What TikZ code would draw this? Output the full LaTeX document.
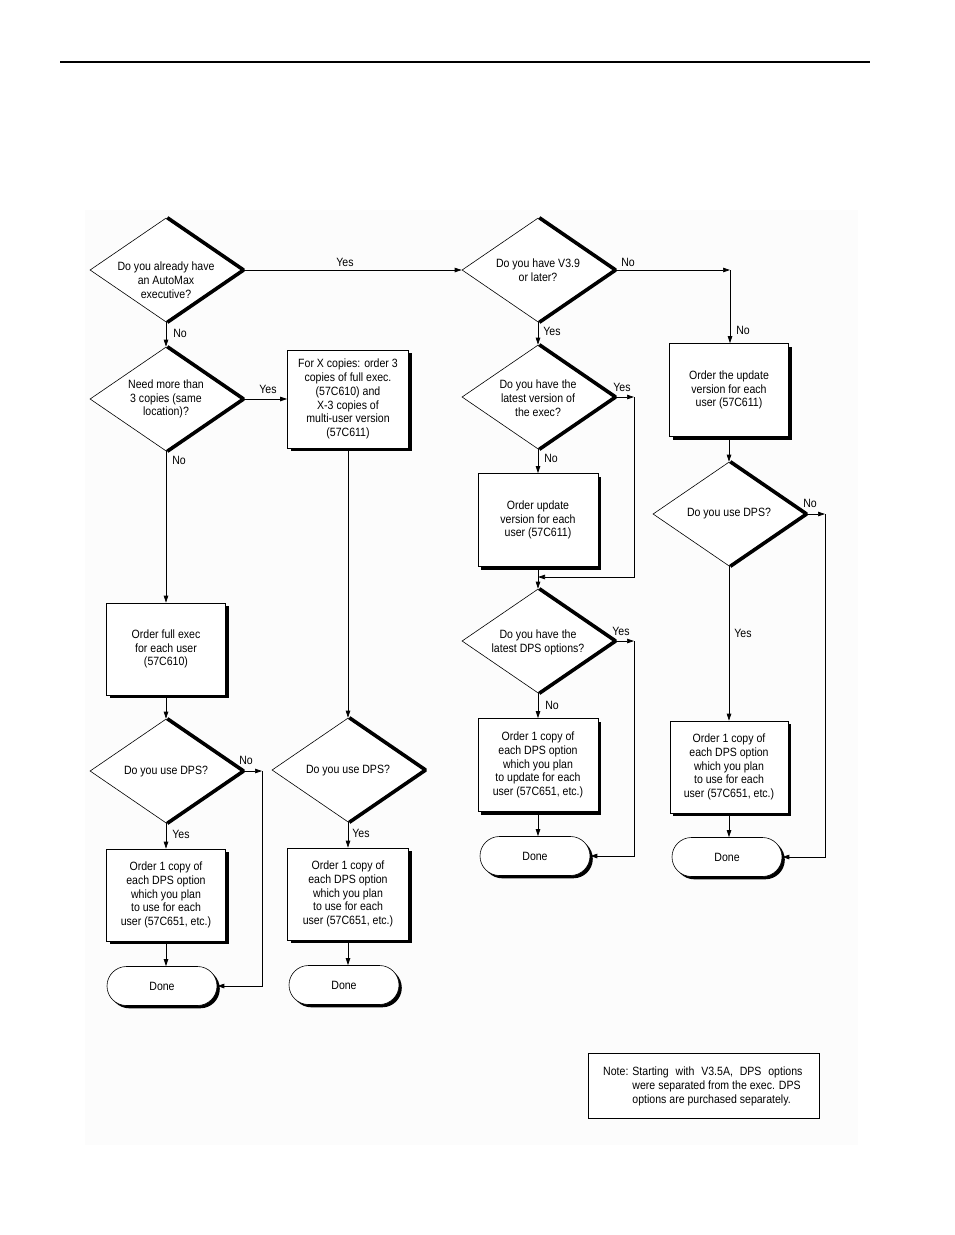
\documentclass[tikz,border=0pt]{standalone}
\usepackage{fontspec}
\setmainfont{Liberation Sans}[FakeStretch=0.88]
\usetikzlibrary{shapes.geometric,shapes.misc,arrows.meta,shadows}
\begin{document}
\begin{tikzpicture}[x=1pt,y=-1pt,
  every node/.style={font=\fontsize{12}{13.8}\selectfont},
  dia/.style={diamond, draw, fill=white, minimum width=152pt, minimum height=104pt, inner sep=0pt, line width=0.6pt},
  dsh/.style={line width=3.6pt, line join=bevel},
  txt/.style={align=center, inner sep=0pt},
  box/.style={draw, fill=white, line width=0.6pt, align=center, inner sep=0pt,
    general shadow={fill=black, shadow xshift=3pt, shadow yshift=-3pt}},
  done/.style={rounded rectangle, draw, fill=white, line width=0.6pt, minimum width=110pt, minimum height=39pt, inner sep=0pt,
    general shadow={fill=black, shadow xshift=2.8pt, shadow yshift=-2.8pt}},
  arr/.style={draw, line width=0.7pt, -{Triangle[length=7pt,width=4.5pt]}},
  lab/.style={inner sep=0pt}]
\useasboundingbox (0,0) rectangle (954,1235);
\fill[black!1.2] (85,210) rectangle (858,1145);
\draw[line width=1.5pt] (60,62) -- (870,62);

% diamonds
\node[dia] (d1) at (166,270) {};
\node[dia] (d2) at (166,399) {};
\node[dia] (d3) at (538,270) {};
\node[dia] (d4) at (538,397) {};
\node[dia] (d5) at (538,641) {};
\node[dia] (d6) at (729,514) {};
\node[dia] (d7) at (166,771) {};
\node[dia] (d8) at (348,770) {};
\foreach \n in {d1,d2,d3,d4,d5,d6,d7,d8}
  \draw[dsh] ([xshift=1.3pt]\n.north) -- ([xshift=1.3pt]\n.east) -- ([xshift=1.3pt]\n.south);
\node[txt] (t1) at (166,280) {Do you already have\\an AutoMax\\executive?};
\node[txt] (t2) at (166,399) {Need more than\\3 copies (same\\location)?};
\node[txt] (t3) at (538,270) {Do you have V3.9\\or later?};
\node[txt] (t4) at (538,398) {Do you have the\\latest version of\\the exec?};
\node[txt] (t5) at (538,642) {Do you have the\\latest DPS options?};
\node[txt] (t6) at (729,514) {Do you use DPS?};
\node[txt] (t7) at (166,772) {Do you use DPS?};
\node[txt] (t8) at (348,771) {Do you use DPS?};

% boxes
\node[box, minimum width=121pt, minimum height=98pt] (b1) at (348,399) {For X copies: order 3\\copies of full exec.\\(57C610) and\\X-3 copies of\\multi-user version\\(57C611)};
\node[box, minimum width=119pt, minimum height=92pt] (b2) at (166,649) {Order full exec\\for each user\\(57C610)};
\node[box, minimum width=119pt, minimum height=93pt] (b3) at (729,390) {Order the update\\version for each\\user (57C611)};
\node[box, minimum width=120pt, minimum height=93pt] (b4) at (538,520) {Order update\\version for each\\user (57C611)};
\node[box, minimum width=120pt, minimum height=93pt] (b5) at (538,765) {Order 1 copy of\\each DPS option\\which you plan\\to update for each\\user (57C651, etc.)};
\node[box, minimum width=118pt, minimum height=92pt] (b6) at (729,767) {Order 1 copy of\\each DPS option\\which you plan\\to use for each\\user (57C651, etc.)};
\node[box, minimum width=119pt, minimum height=92pt] (b7) at (166,895) {Order 1 copy of\\each DPS option\\which you plan\\to use for each\\user (57C651, etc.)};
\node[box, minimum width=121pt, minimum height=92pt] (b8) at (348,894) {Order 1 copy of\\each DPS option\\which you plan\\to use for each\\user (57C651, etc.)};

% terminals
\node[done] (e1) at (162,986) {Done};
\node[done] (e2) at (344,985) {Done};
\node[done] (e3) at (535,856) {Done};
\node[done] (e4) at (727,857) {Done};

% helper points
\coordinate (c1) at (730,270);
\coordinate (c2) at (634,397);
\coordinate (j1) at (538,577);
\coordinate (c3) at (634,641);
\coordinate (c4) at (825,514);
\coordinate (c5) at (262,771);

% connectors
\draw[arr] (d1.east) -- (d3.west);
\draw[arr] (d1.south) -- (d2.north);
\draw[arr] (d2.east) -- (b1.west |- d2.east);
\draw[arr] (d2.south) -- (b2.north);
\draw[arr] (b2.south) -- (d7.north);
\draw[arr] (d7.east) -- (c5);
\draw[arr] (c5) |- (e1.east);
\draw[arr] (d7.south) -- (b7.north);
\draw[arr] (b7.south) -- (b7.south |- e1.north);
\draw[arr] (b1.south) -- (d8.north);
\draw[arr] (d8.south) -- (b8.north);
\draw[arr] (b8.south) -- (b8.south |- e2.north);
\draw[arr] (d3.east) -- (c1);
\draw[arr] (c1) -- (c1 |- b3.north);
\draw[arr] (d3.south) -- (d4.north);
\draw[arr] (d4.east) -- (c2);
\draw[arr] (c2) |- (j1);
\draw[arr] (d4.south) -- (b4.north);
\draw[arr] (b4.south) -- (d5.north);
\draw[arr] (d5.east) -- (c3);
\draw[arr] (c3) |- (e3.east);
\draw[arr] (d5.south) -- (b5.north);
\draw[arr] (b5.south) -- (b5.south |- e3.north);
\draw[arr] (b3.south) -- (d6.north);
\draw[arr] (d6.east) -- (c4);
\draw[arr] (c4) |- (e4.east);
\draw[arr] (d6.south) -- (b6.north);
\draw[arr] (b6.south) -- (b6.south |- e4.north);

% labels
\node[lab] (l1) at (345,262) {Yes};
\node[lab] (l2) at (180,333) {No};
\node[lab] (l3) at (268,389) {Yes};
\node[lab] (l4) at (179,460) {No};
\node[lab] (l5) at (628,262) {No};
\node[lab] (l6) at (552,331) {Yes};
\node[lab] (l7) at (743,330) {No};
\node[lab] (l8) at (622,387) {Yes};
\node[lab] (l9) at (551,458) {No};
\node[lab] (l10) at (621,631) {Yes};
\node[lab] (l11) at (552,705) {No};
\node[lab] (l12) at (810,503) {No};
\node[lab] (l13) at (743,633) {Yes};
\node[lab] (l14) at (246,760) {No};
\node[lab] (l15) at (181,834) {Yes};
\node[lab] (l16) at (361,833) {Yes};

% note
\node[draw, line width=0.8pt, fill=white, minimum width=231pt, minimum height=65pt, inner sep=0pt] (note) at (703.5,1085.5) {};
\node[inner sep=0pt, anchor=west] (notet) at (603,1087) {\begin{tabular}{@{}l@{\hspace{4pt}}l@{}}Note: & \makebox[170pt][s]{Starting with V3.5A, DPS options}\\ & were separated from the exec. DPS\\ & options are purchased separately.\end{tabular}};
\end{tikzpicture}
\end{document}
